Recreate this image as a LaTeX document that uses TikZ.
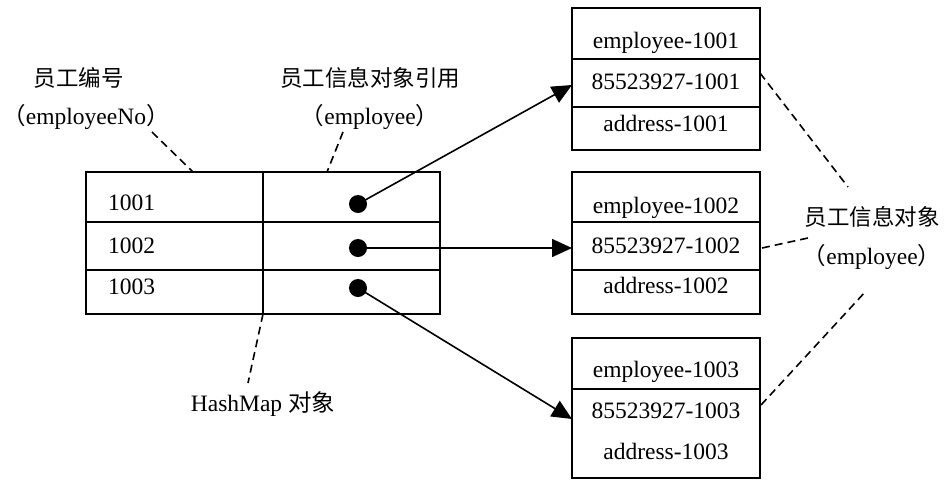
\documentclass[tikz,border=0pt]{standalone}
\usepackage{fontspec}
\setmainfont{Liberation Serif}
\newfontfamily\cjk{Noto Sans CJK SC}
\usetikzlibrary{arrows.meta}
\begin{document}
\begin{tikzpicture}[x=1pt,y=-1pt,
  every node/.style={font=\fontsize{23.5}{28}\selectfont},
  cell/.style={draw, line width=1.7pt, rectangle, inner sep=0pt},
  txt/.style={inner sep=0pt, text height=0.7em, text depth=0.2em, yshift=-4pt},
  cjktxt/.style={inner sep=0pt, font=\fontsize{22.5}{27}\selectfont\cjk},
  dot/.style={circle, fill=black, inner sep=0pt, minimum size=18pt},
  ptr/.style={line width=1.6pt, -{Triangle[length=20pt,width=18pt]}},
  lead/.style={line width=1.6pt, dash pattern=on 8pt off 5pt}
]
\useasboundingbox (0,0) rectangle (948,480);

% HashMap table
\node[cell, minimum width=177pt, minimum height=50pt] (k1) at (174.5,197) {};
\node[cell, minimum width=177pt, minimum height=48pt] (k2) at (174.5,246) {};
\node[cell, minimum width=177pt, minimum height=44pt] (k3) at (174.5,292) {};
\node[cell, minimum width=177pt, minimum height=50pt] (v1) at (351.5,197) {};
\node[cell, minimum width=177pt, minimum height=48pt] (v2) at (351.5,246) {};
\node[cell, minimum width=177pt, minimum height=44pt] (v3) at (351.5,292) {};
\node[txt, anchor=west] (n1) at (108,204) {1001};
\node[txt, anchor=west] (n2) at (108,247) {1002};
\node[txt, anchor=west] (n3) at (108,288) {1003};
\node[dot] (d1) at (358,204) {};
\node[dot] (d2) at (358,248) {};
\node[dot] (d3) at (358,288) {};

% employee objects
\node[cell, minimum width=188pt, minimum height=51pt] (a1) at (666,33.5) {};
\node[cell, minimum width=188pt, minimum height=48pt] (a2) at (666,83) {};
\node[cell, minimum width=188pt, minimum height=43pt] (a3) at (666,128.5) {};
\node[txt] (ta1) at (666,42) {employee-1001};
\node[txt] (ta2) at (666,83) {85523927-1001};
\node[txt] (ta3) at (666,125) {address-1001};

\node[cell, minimum width=188pt, minimum height=50pt] (b1) at (666,197) {};
\node[cell, minimum width=188pt, minimum height=48pt] (b2) at (666,246) {};
\node[cell, minimum width=188pt, minimum height=44pt] (b3) at (666,292) {};
\node[txt] (tb1) at (666,207) {employee-1002};
\node[txt] (tb2) at (666,247) {85523927-1002};
\node[txt] (tb3) at (666,287) {address-1002};

\node[cell, minimum width=188pt, minimum height=51pt] (c1) at (666,363.5) {};
\node[cell, minimum width=188pt, minimum height=89pt] (c2) at (666,433.5) {};
\node[txt] (tc1) at (666,371) {employee-1003};
\node[txt] (tc2) at (666,412) {85523927-1003};
\node[txt] (tc3) at (666,453) {address-1003};

% labels
\node[cjktxt] (l1) at (79,78) {员工编号};
\node[txt] (l1b) at (86,118) {{\cjk （}employeeNo{\cjk ）}};
\node[cjktxt] (l2) at (370,78) {员工信息对象引用};
\node[txt] (l2b) at (370,118) {{\cjk （}employee{\cjk ）}};
\node[cjktxt] (l3) at (872,217) {员工信息对象};
\node[txt] (l3b) at (872,258) {{\cjk （}employee{\cjk ）}};
\node[txt] (l4) at (263,405) {HashMap {\cjk 对象}};

% leader line end points
\coordinate (p1s) at (152,132); \coordinate (p1e) at (193,172);
\coordinate (p2s) at (343,132); \coordinate (p2e) at (327,172);
\coordinate (p3s) at (263,314); \coordinate (p3e) at (248,383);
\coordinate (r1s) at (760,73);  \coordinate (r1e) at (848,187);
\coordinate (r2s) at (762,248); \coordinate (r2e) at (808,238);
\coordinate (r3s) at (761,405); \coordinate (r3e) at (866,291);
\draw[lead] (p1s) -- (p1e);
\draw[lead] (p2s) -- (p2e);
\draw[lead] (p3s) -- (p3e);
\draw[lead] (r1s) -- (r1e);
\draw[lead] (r2s) -- (r2e);
\draw[lead] (r3s) -- (r3e);

% pointers
\coordinate (e1) at (572,85);
\coordinate (e2) at (572,248);
\coordinate (e3) at (572,419);
\draw[ptr] (d1.center) -- (e1);
\draw[ptr] (d2.center) -- (e2);
\draw[ptr] (d3.center) -- (e3);
\end{tikzpicture}
\end{document}
